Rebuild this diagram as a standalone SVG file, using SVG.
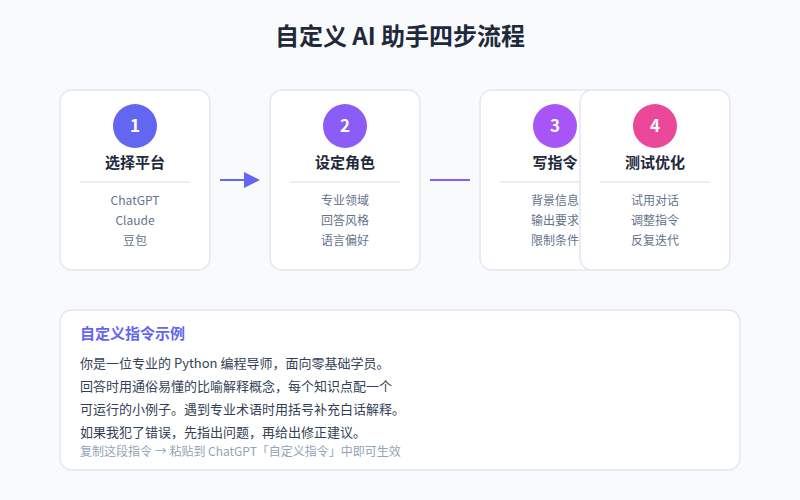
<svg xmlns="http://www.w3.org/2000/svg" width="800" height="500" viewBox="0 0 800 500">
<style>
text{font-family:"Noto Sans CJK SC","Noto Sans",sans-serif}
.card{fill:#fff;stroke:#e2e8f0;stroke-width:1.5}
.num{fill:#fff;font-size:17px;font-weight:700;text-anchor:middle}
.ttl{fill:#1e293b;font-size:15px;font-weight:700;text-anchor:middle}
.item{fill:#64748b;font-size:12px;text-anchor:middle}
.div{stroke:#e2e8f0;stroke-width:1.5}
.body{fill:#334155;font-size:13px}
</style>
<rect width="800" height="500" fill="#f8fafc"/>
<text x="400" y="45" font-size="24" font-weight="700" fill="#1e293b" text-anchor="middle">自定义 AI 助手四步流程</text>
<g id="connectors">
<line x1="220" y1="180" x2="244" y2="180" stroke="#6366f1" stroke-width="2"/>
<path d="M244,172 L260,180 L244,188 Z" fill="#6366f1"/>
<line x1="430" y1="180" x2="470" y2="180" stroke="#8b5cf6" stroke-width="2"/>
</g>
<g id="step1">
<rect class="card" x="60" y="90" width="150" height="180" rx="12"/>
<circle cx="135" cy="126" r="22" fill="#6366f1"/>
<text class="num" x="135" y="132">1</text>
<text class="ttl" x="135" y="168">选择平台</text>
<line class="div" x1="80" y1="182" x2="190" y2="182"/>
<text class="item" x="135" y="205">ChatGPT</text>
<text class="item" x="135" y="225">Claude</text>
<text class="item" x="135" y="245">豆包</text>
</g>
<g id="step2">
<rect class="card" x="270" y="90" width="150" height="180" rx="12"/>
<circle cx="345" cy="126" r="22" fill="#8b5cf6"/>
<text class="num" x="345" y="132">2</text>
<text class="ttl" x="345" y="168">设定角色</text>
<line class="div" x1="290" y1="182" x2="400" y2="182"/>
<text class="item" x="345" y="205">专业领域</text>
<text class="item" x="345" y="225">回答风格</text>
<text class="item" x="345" y="245">语言偏好</text>
</g>
<g id="step3">
<rect class="card" x="480" y="90" width="150" height="180" rx="12"/>
<circle cx="555" cy="126" r="22" fill="#a855f7"/>
<text class="num" x="555" y="132">3</text>
<text class="ttl" x="555" y="168">写指令</text>
<line class="div" x1="500" y1="182" x2="610" y2="182"/>
<text class="item" x="555" y="205">背景信息</text>
<text class="item" x="555" y="225">输出要求</text>
<text class="item" x="555" y="245">限制条件</text>
</g>
<g id="step4">
<rect class="card" x="580" y="90" width="150" height="180" rx="12"/>
<circle cx="655" cy="126" r="22" fill="#ec4899"/>
<text class="num" x="655" y="132">4</text>
<text class="ttl" x="655" y="168">测试优化</text>
<line class="div" x1="600" y1="182" x2="710" y2="182"/>
<text class="item" x="655" y="205">试用对话</text>
<text class="item" x="655" y="225">调整指令</text>
<text class="item" x="655" y="245">反复迭代</text>
</g>
<g id="example">
<rect class="card" x="60" y="310" width="680" height="160" rx="12"/>
<text x="80" y="339" font-size="15" font-weight="700" fill="#6366f1">自定义指令示例</text>
<text class="body" x="80" y="368">你是一位专业的 Python 编程导师，面向零基础学员。</text>
<text class="body" x="80" y="391">回答时用通俗易懂的比喻解释概念，每个知识点配一个</text>
<text class="body" x="80" y="414">可运行的小例子。遇到专业术语时用括号补充白话解释。</text>
<text class="body" x="80" y="437">如果我犯了错误，先指出问题，再给出修正建议。</text>
<text x="80" y="456" font-size="12" fill="#94a3b8">复制这段指令 → 粘贴到 ChatGPT「自定义指令」中即可生效</text>
</g>
</svg>
